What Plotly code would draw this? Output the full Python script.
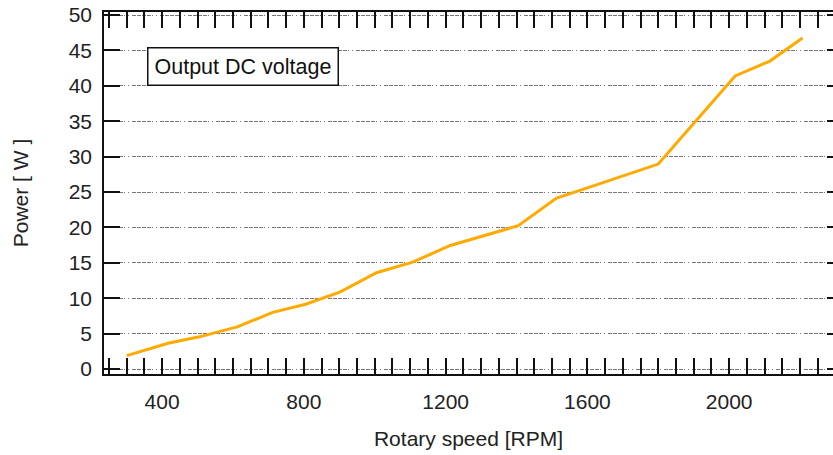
import plotly.graph_objects as go

rpm = [300, 417, 505, 612, 712, 805, 903, 1005, 1107, 1213, 1405, 1513, 1600, 1700, 1800, 2017, 2115, 2207]
power = [1.9, 3.65, 4.55, 5.95, 8.0, 9.15, 10.9, 13.6, 15.1, 17.45, 20.25, 24.15, 25.6, 27.3, 28.95, 41.4, 43.5, 46.75]
x_ticks = [400, 800, 1200, 1600, 2000]
y_ticks = [0, 5, 10, 15, 20, 25, 30, 35, 40, 45, 50]
label_text = "Output DC voltage"

FONT = "Liberation Sans, Arial, Helvetica, sans-serif"

fig = go.Figure()
fig.add_trace(go.Scatter(x=rpm, y=power, mode="lines",
                         line=dict(color="#FFAA00", width=3), showlegend=False))
# dummy for right axis ticks
fig.add_trace(go.Scatter(x=[rpm[0]], y=[power[0]], yaxis="y2", mode="markers",
                         marker=dict(opacity=0), showlegend=False, hoverinfo="skip"))

fig.update_layout(
    width=833, height=455,
    margin=dict(l=104, r=0, t=12, b=81),
    paper_bgcolor="white", plot_bgcolor="white",
    font=dict(family=FONT, size=21, color="#222"),
    xaxis=dict(
        range=[236, 2293], automargin=False,
        tickmode="array", tickvals=x_ticks, ticktext=[str(v) for v in x_ticks],
        ticks="inside", ticklen=16, tickwidth=1.5, tickcolor="#111",
        minor=dict(dtick=50, tick0=0, ticks="inside", ticklen=8, tickwidth=1.5, tickcolor="#111", showgrid=False),
        showline=True, linecolor="#111", linewidth=1.5, mirror="allticks",
        showgrid=False, zeroline=False,
        tickfont=dict(size=21, color="#222"),
        ticklabelstandoff=8,
        title=dict(text="Rotary speed [RPM]", font=dict(size=21, color="#222"), standoff=19),
    ),
    yaxis=dict(
        range=[-0.7, 50.43], automargin=False,
        tickmode="array", tickvals=y_ticks, ticktext=[str(v) for v in y_ticks],
        ticks="inside", ticklen=16, tickwidth=1.5, tickcolor="#111",
        showline=True, linecolor="#111", linewidth=1.5,
        showgrid=True, gridcolor="#777", gridwidth=1, griddash="4px,1px,4px,1px,4px,1px,4px,1px,1px,3px,1px,3px",
        zeroline=False, ticklabeloverflow="allow",
        tickfont=dict(size=21, color="#222"),
        ticklabelstandoff=6,
        title=dict(text="Power [ W ]", font=dict(size=21, color="#222"), standoff=34),
    ),
    yaxis2=dict(
        overlaying="y", side="right", matches="y", automargin=False,
        tickmode="array", tickvals=y_ticks,
        ticks="inside", ticklen=6, tickwidth=2, tickcolor="#111",
        showticklabels=False, showline=False, showgrid=False, zeroline=False,
    ),
    annotations=[dict(
        text=label_text, xref="paper", yref="paper", x=0.059, y=0.85,
        xanchor="left", yanchor="middle", showarrow=False,
        font=dict(size=21.5, color="#111"),
        bordercolor="#111", borderwidth=1.5, borderpad=6, bgcolor="white",
    )],
)

fig.write_html("out.html", config={"displayModeBar": False},
               post_script="document.body.style.margin='0';document.body.style.overflow='hidden';")
